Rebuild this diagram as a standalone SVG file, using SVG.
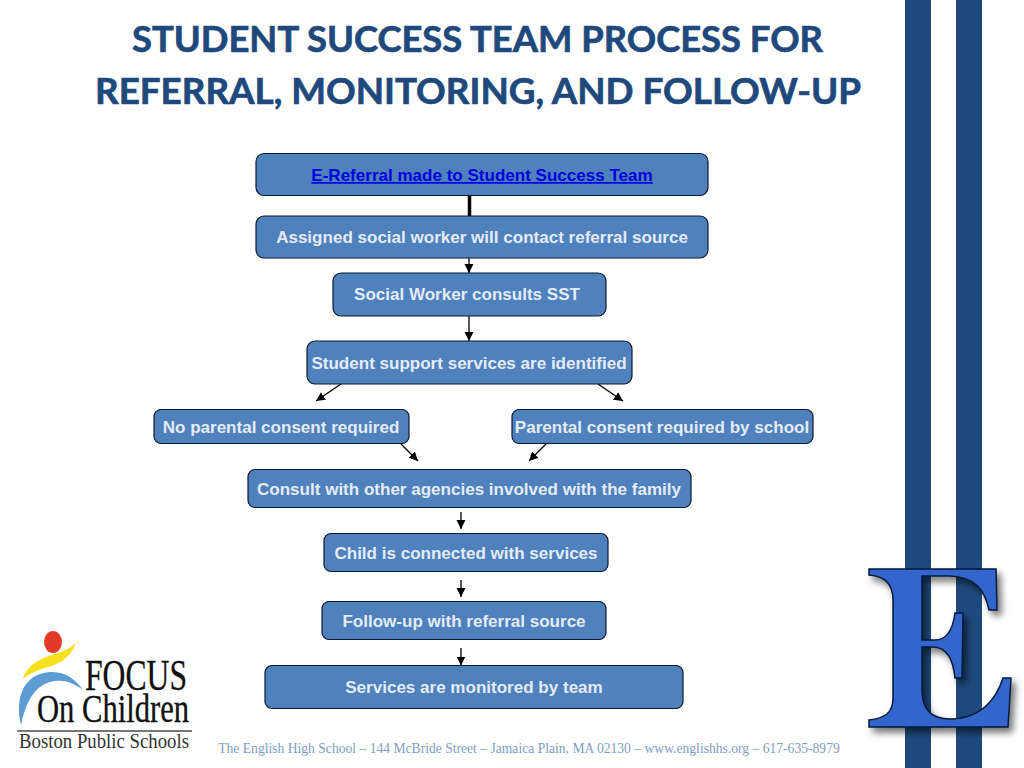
<svg xmlns="http://www.w3.org/2000/svg" width="1024" height="768" viewBox="0 0 1024 768">
<style>
.n{fill:#4f81bd;stroke:#0b1a2e;stroke-width:1.2}
.t{font-family:"Liberation Sans",Arial,sans-serif;font-weight:bold;font-size:17.05px;fill:#e4ebf5;text-anchor:middle}
.h{font-family:Lato,"Open Sans",sans-serif;font-weight:bold;font-size:37px;fill:#1f497d;stroke:#1f497d;stroke-width:.7}
.c{stroke:#000;stroke-width:1.3;fill:none;marker-end:url(#a)}
.l{font-family:"Liberation Serif",serif;fill:#111;stroke:#111;stroke-width:.35}
</style>
<defs>
<marker id="a" markerUnits="userSpaceOnUse" markerWidth="10" markerHeight="10" refX="9" refY="4.500" orient="auto"><path d="M0 0L9 4.500L0 9z" fill="#000"/></marker>
<filter id="s" x="-10%" y="-10%" width="130%" height="130%"><feDropShadow dx="4" dy="5" stdDeviation="3.500" flood-color="#000" flood-opacity=".55"/></filter>
</defs>
<rect width="1024" height="768" fill="#fff"/>
<rect x="905" width="26" height="768" fill="#1f497d"/>
<rect x="956" width="26" height="768" fill="#1f497d"/>
<g id="title">
<text class="h" x="132" y="52" textLength="691" lengthAdjust="spacingAndGlyphs">STUDENT SUCCESS TEAM PROCESS FOR</text>
<text class="h" x="95" y="104" textLength="766" lengthAdjust="spacingAndGlyphs">REFERRAL, MONITORING, AND FOLLOW-UP</text>
</g>
<g id="connectors">
<line x1="469.500" y1="196" x2="469.500" y2="216" stroke="#000" stroke-width="3.500"/>
<line class="c" x1="469" y1="256" x2="469" y2="273"/>
<line class="c" x1="469" y1="316" x2="469" y2="341"/>
<line class="c" x1="341" y1="384" x2="316" y2="401"/>
<line class="c" x1="598" y1="384" x2="623" y2="401"/>
<line class="c" x1="401" y1="444" x2="418" y2="461"/>
<line class="c" x1="546" y1="444" x2="529" y2="461"/>
<line class="c" x1="461" y1="512" x2="461" y2="529"/>
<line class="c" x1="461" y1="580" x2="461" y2="597"/>
<line class="c" x1="461" y1="648" x2="461" y2="665.500"/>
</g>
<g id="n1"><rect class="n" x="256" y="153.500" width="452" height="42" rx="8"/><text x="482" y="181" text-anchor="middle" font-family="Liberation Sans,Arial,sans-serif" font-weight="bold" font-size="17.050" fill="#0000e0" text-decoration="underline">E-Referral made to Student Success Team</text></g>
<g id="n2"><rect class="n" x="256" y="216" width="452" height="42" rx="8"/><text class="t" x="482" y="243">Assigned social worker will contact referral source</text></g>
<g id="n3"><rect class="n" x="333" y="273" width="273" height="43" rx="8"/><text class="t" x="467" y="300">Social Worker consults SST</text></g>
<g id="n4"><rect class="n" x="307" y="341" width="325" height="43" rx="8"/><text class="t" x="469" y="369">Student support services are identified</text></g>
<g id="n5"><rect class="n" x="154" y="409.500" width="255" height="34" rx="7"/><text class="t" x="281" y="433">No parental consent required</text></g>
<g id="n6"><rect class="n" x="512" y="409.500" width="301" height="34" rx="7"/><text class="t" x="662" y="433">Parental consent required by school</text></g>
<g id="n7"><rect class="n" x="248" y="469.500" width="443" height="38" rx="7"/><text class="t" x="469" y="495">Consult with other agencies involved with the family</text></g>
<g id="n8"><rect class="n" x="324" y="533.500" width="284" height="38" rx="7"/><text class="t" x="466" y="559">Child is connected with services</text></g>
<g id="n9"><rect class="n" x="322" y="601.500" width="284" height="38" rx="7"/><text class="t" x="464" y="627">Follow-up with referral source</text></g>
<g id="n10"><rect class="n" x="265" y="665.500" width="418" height="43" rx="7"/><text class="t" x="474" y="693">Services are monitored by team</text></g>
<g id="logo">
<ellipse cx="53" cy="642" rx="9" ry="11" fill="#e23a24"/>
<path d="M23 679C27 663 45 657 58 653C67 650 73 646 76 642C72 656 60 664 48 667C38 670 30 673 23 679z" fill="#f7e11e"/>
<path d="M21 725C15 700 22 674 50 672C66 671 76 680 83 690C72 682 62 679 50 682C34 687 26 702 21 725z" fill="#5d9cd3"/>
<text class="l" x="85" y="690" font-size="44" textLength="102" lengthAdjust="spacingAndGlyphs">FOCUS</text>
<text class="l" x="37" y="722" font-size="40" textLength="152" lengthAdjust="spacingAndGlyphs">On Children</text>
<rect x="17" y="730" width="175" height="2" fill="#777"/>
<text x="19" y="748" font-family="Liberation Serif,serif" font-size="20" fill="#333" textLength="170" lengthAdjust="spacingAndGlyphs">Boston Public Schools</text>
</g>
<text x="529" y="753" text-anchor="middle" font-family="Liberation Serif,serif" font-size="13.600" fill="#7f9dc0">The English High School – 144 McBride Street – Jamaica Plain, MA 02130 – www.englishhs.org – 617-635-8979</text>
<g id="letter">
<path filter="url(#s)" fill="#3366cc" stroke="#071a3a" stroke-width="1.500" fill-rule="evenodd" d="M869 569H996L997 610H989C985 590 975 577 950 576L922 576V640H935C948 640 953 628 955 613H963L962 678H955C953 660 948 647 932 647H922V690C922 708 930 719 950 719C980 719 996 700 1003 678H1011L1008 727H869V720C884 718 893 714 893 698V600C893 584 884 576 869 575Z"/>
</g>
</svg>
